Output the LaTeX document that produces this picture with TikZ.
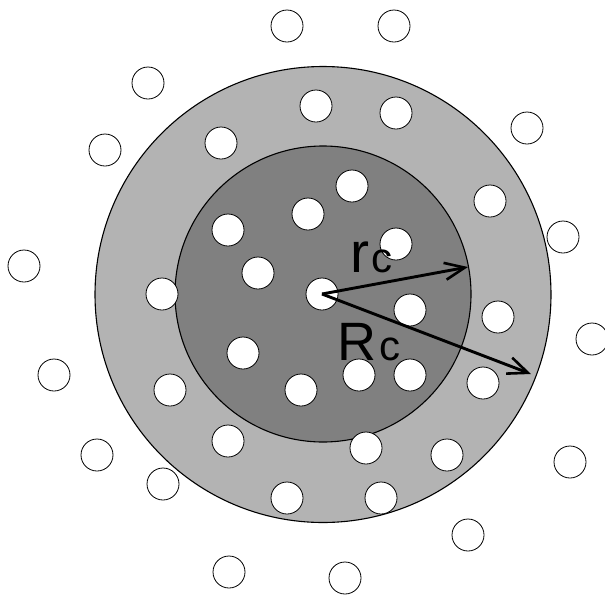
\documentclass[tikz,border=0pt]{standalone}
\usepackage{fontspec}
\setmainfont{Liberation Sans}
\usetikzlibrary{arrows.meta}
\definecolor{darkgr}{HTML}{808080}
\definecolor{lightgr}{HTML}{B3B3B3}
\begin{document}
\begin{tikzpicture}[x=1pt,y=-1pt,
  dot/.style={circle,draw=black,line width=0.8pt,fill=white,minimum size=32pt,inner sep=0pt},
  zone/.style={circle,draw=black,line width=1.1pt,inner sep=0pt},
  radarrow/.style={line width=2.9pt,-{Straight Barb[length=20pt,width=17pt,line width=2.6pt]}},
  lbl/.style={anchor=base west,inner sep=0pt,font=\fontsize{57}{57}\selectfont}]
\useasboundingbox (0,0) rectangle (605,595);
\node[zone,fill=lightgr,minimum size=456pt] (outer) at (323,294.5) {};
\node[zone,fill=darkgr,minimum size=296pt] (inner) at (323,294) {};
% outside dots
\foreach \n/\x/\y in {o1/287/26,o2/394/26,o3/148/83,o4/105/150,o5/527/128,o6/563/237,o7/24/266,o8/592/339,o9/54/375,o10/97/455,o11/570/462,o12/163/484,o13/468/535,o14/229/572,o15/345/578}
  \node[dot] (\n) at (\x,\y) {};
% annulus dots
\foreach \n/\x/\y in {a1/316/106,a2/396/113,a3/221/143,a4/490/201,a5/162/294,a6/498/317,a7/170/390,a8/228/441,a9/366/448,a10/447/455,a11/287/498,a12/381/498,a13/483/383}
  \node[dot] (\n) at (\x,\y) {};
% core dots
\foreach \n/\x/\y in {i1/352/186,i2/308/214,i3/228/230,i4/396/244,i5/258/273,i6/410/310,i7/243/353,i8/301/390,i9/359/375,i10/410/375}
  \node[dot] (\n) at (\x,\y) {};
\node[dot] (c0) at (322,294) {};
\coordinate (rtip) at (468,267);
\coordinate (Rtip) at (531,374);
\draw[radarrow] (c0.center) -- (rtip);
\draw[radarrow] (c0.center) -- (Rtip);
\node[lbl] (rlabel) at (350,272) {r\fontsize{42}{42}\selectfont\kern2pt c};
\node[lbl,font=\fontsize{54}{54}\selectfont] (Rlabel) at (337,360) {R\fontsize{42}{42}\selectfont\kern3pt c};
\end{tikzpicture}
\end{document}
